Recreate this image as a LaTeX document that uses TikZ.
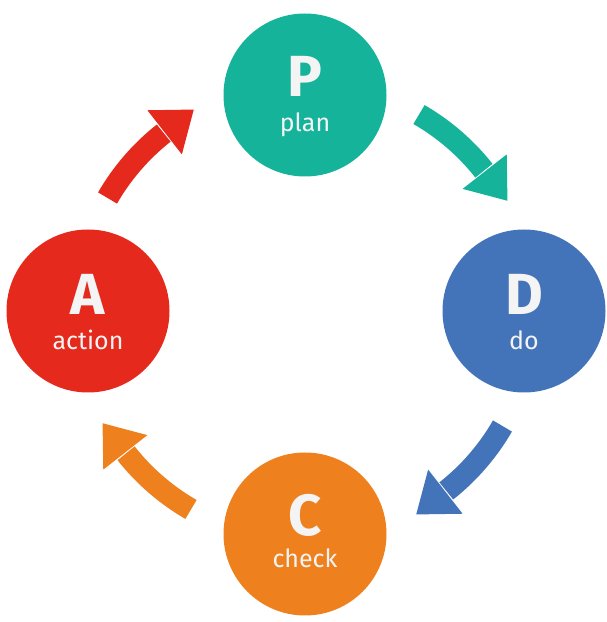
\documentclass[tikz,border=0pt]{standalone}
\usepackage{fontspec}
\setmainfont{Fira Sans}
\usetikzlibrary{calc}
\definecolor{cP}{RGB}{22,179,155}
\definecolor{cD}{RGB}{67,116,185}
\definecolor{cC}{RGB}{238,128,30}
\definecolor{cA}{RGB}{229,41,28}
\definecolor{txt}{RGB}{244,244,244}
\tikzset{
  phase/.style={circle, minimum size=163pt, inner sep=0pt, fill=#1},
  bigletter/.style={anchor=base, inner sep=0pt, text=txt, font=\fontsize{58}{62}\selectfont\bfseries},
  smalltext/.style={anchor=base, inner sep=0pt, text=txt, font=\fontsize{25}{28}\selectfont},
}
% #1 = middle angle, #2 = colour
\newcommand{\cyclearrow}[2]{%
  \pgfmathsetmacro{\aone}{#1+15}%
  \pgfmathsetmacro{\atwo}{#1-7}%
  \pgfmathsetmacro{\atip}{#1-7-90}%
  \draw[#2, line width=22pt] ($(O)+(\aone:228)$) arc[start angle=\aone, end angle=\atwo+0.3, radius=228pt];
  \fill[#2] ($(O)+(\atwo:200)$) -- ($(O)+(\atwo:256)$) -- ($(O)+(\atwo:228)+(\atip:37)$) -- cycle;
}
\begin{document}
\begin{tikzpicture}[x=1pt,y=1pt]
\useasboundingbox (0,0) rectangle (606,622);
\coordinate (O) at (305,310);
% circles
\node[phase=cP] (P) at (305,527) {};
\node[phase=cD] (D) at (524,311) {};
\node[phase=cC] (C) at (305,88) {};
\node[phase=cA] (A) at (88,311) {};
% texts
\node[bigletter] (Pl) at ($(P)+(0,-2)$) {P};
\node[smalltext] (Pt) at ($(P)+(0,-37)$) {plan};
\node[bigletter] (Dl) at ($(D)+(0,-4)$) {D};
\node[smalltext] (Dt) at ($(D)+(0,-39)$) {do};
\node[bigletter] (Cl) at ($(C)+(0,-2)$) {C};
\node[smalltext] (Ct) at ($(C)+(0,-34)$) {check};
\node[bigletter] (Al) at ($(A)+(0,-4)$) {A};
\node[smalltext] (At) at ($(A)+(0,-39)$) {action};
% arrows
\cyclearrow{45}{cP}
\cyclearrow{-45}{cD}
\cyclearrow{-135}{cC}
\cyclearrow{135}{cA}
\end{tikzpicture}
\end{document}
